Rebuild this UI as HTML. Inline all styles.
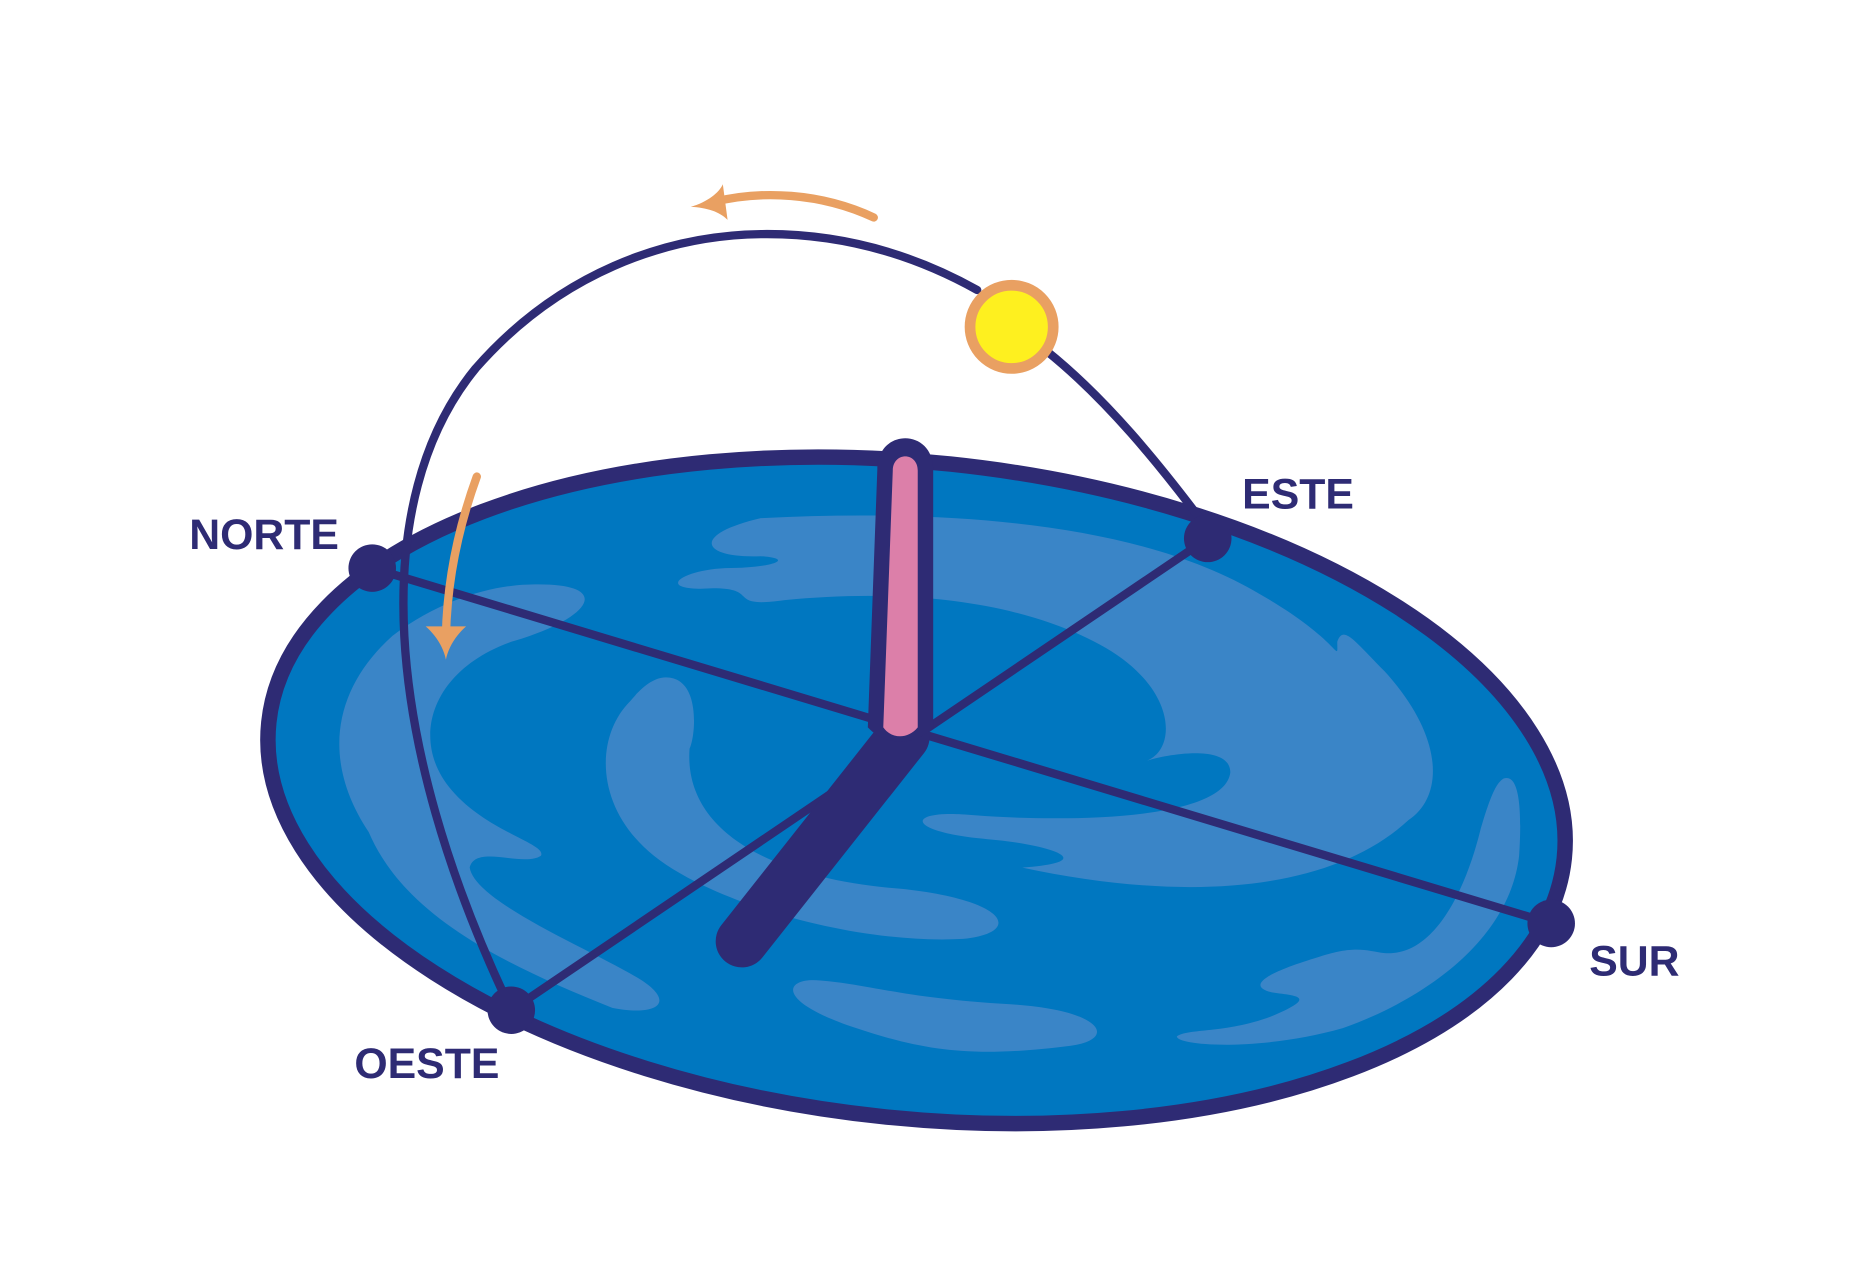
<!DOCTYPE html>
<html><head><meta charset="utf-8"><style>html,body{margin:0;padding:0;background:#fff}svg{display:block}</style></head>
<body>
<svg width="1864" height="1280" viewBox="0 0 1568 1077" xmlns="http://www.w3.org/2000/svg">
<g transform="rotate(6 771 665)">
<ellipse cx="771" cy="665" rx="548" ry="276" fill="#0077c0" stroke="#2e2b74" stroke-width="13"/>
</g>
<g fill="#3a85c7">
<path d="M640 436 C800 428 960 440 1060 500 C1130 540 1125 560 1125 540 C1130 525 1140 540 1165 565 C1215 620 1215 670 1185 690 C1120 750 1000 760 860 730 C930 725 880 710 830 706 C760 700 760 680 820 686 C900 692 1030 690 1035 650 C1035 625 980 635 965 640 C990 630 990 580 930 545 C860 505 760 495 660 505 C610 512 640 495 600 495 C550 498 570 480 610 478 C650 478 670 470 640 468 C590 470 580 450 640 436 Z"/>
<path d="M440 492 C520 488 500 520 430 540 C360 565 345 625 380 665 C410 700 460 710 455 720 C440 730 400 710 395 730 C400 760 500 800 540 825 C570 845 550 855 515 848 C420 810 340 770 310 700 C270 640 280 580 330 535 C370 505 410 494 440 492 Z"/>
<path d="M560 570 C590 570 585 620 580 630 C575 700 650 740 760 748 C850 758 860 785 810 790 C720 795 600 760 550 720 C500 680 500 620 530 590 C540 578 550 570 560 570 Z"/>
<path d="M1265 655 C1280 650 1280 690 1278 720 C1270 790 1200 840 1130 865 C1060 885 990 880 990 872 C1000 865 1030 870 1070 855 C1110 838 1090 838 1070 835 C1050 830 1060 820 1110 805 C1140 795 1150 800 1165 802 C1210 805 1235 740 1245 700 C1255 665 1260 658 1265 655 Z"/>
<path d="M690 825 C730 828 760 840 850 845 C930 850 940 875 900 880 C820 890 780 885 720 865 C650 842 660 822 690 825 Z"/>
</g>
<g stroke="#2e2b74" stroke-width="7" stroke-linecap="round" fill="none">
<line x1="313" y1="478" x2="1305" y2="777"/>
<line x1="1016" y1="453" x2="430" y2="850"/>
<path d="M430 850 C320 620 310 420 400 310 C470 230 560 198 640 197 C710 196 770 215 822 244"/>
<path d="M880 295 C930 335 975 390 1016 445"/>
</g>
<g fill="#2e2b74">
<circle cx="313" cy="478" r="20"/>
<circle cx="1016" cy="453" r="20"/>
<circle cx="430" cy="850" r="20"/>
<circle cx="1305" cy="777" r="20"/>
</g>
<line x1="760" y1="620" x2="624" y2="792" stroke="#2e2b74" stroke-width="44" stroke-linecap="round"/>
<path d="M738 395 C738 360 785 360 785 395 L785 612 C770 628 745 628 730 612 Z" fill="#2e2b74"/>
<path d="M751 396 C751 380 772 380 772 396 L772 612 C764 622 750 622 743 612 Z" fill="#dc7fa9"/>
<circle cx="851" cy="275" r="35" fill="#fef01f" stroke="#e9a062" stroke-width="9"/>
<g stroke="#e9a062" stroke-width="7" stroke-linecap="round" fill="none">
<path d="M735 183 C690 162 640 160 600 170"/>
<path d="M401 401 C385 445 376 490 375 535"/>
</g>
<path d="M581 174 C595 170 605 162 608 155 L612 185 C605 178 595 175 581 174 Z" fill="#e9a062"/>
<path d="M358 527 L392 527 C383 535 377 545 375 555 C373 545 367 535 358 527 Z" fill="#e9a062"/>
<g font-family="'Liberation Sans',sans-serif" font-weight="bold" font-size="36" fill="#2e2b74">
<text x="159" y="462">NORTE</text>
<text x="1045" y="428">ESTE</text>
<text x="298" y="907">OESTE</text>
<text x="1337" y="821">SUR</text>
</g>
</svg>
</body></html>
